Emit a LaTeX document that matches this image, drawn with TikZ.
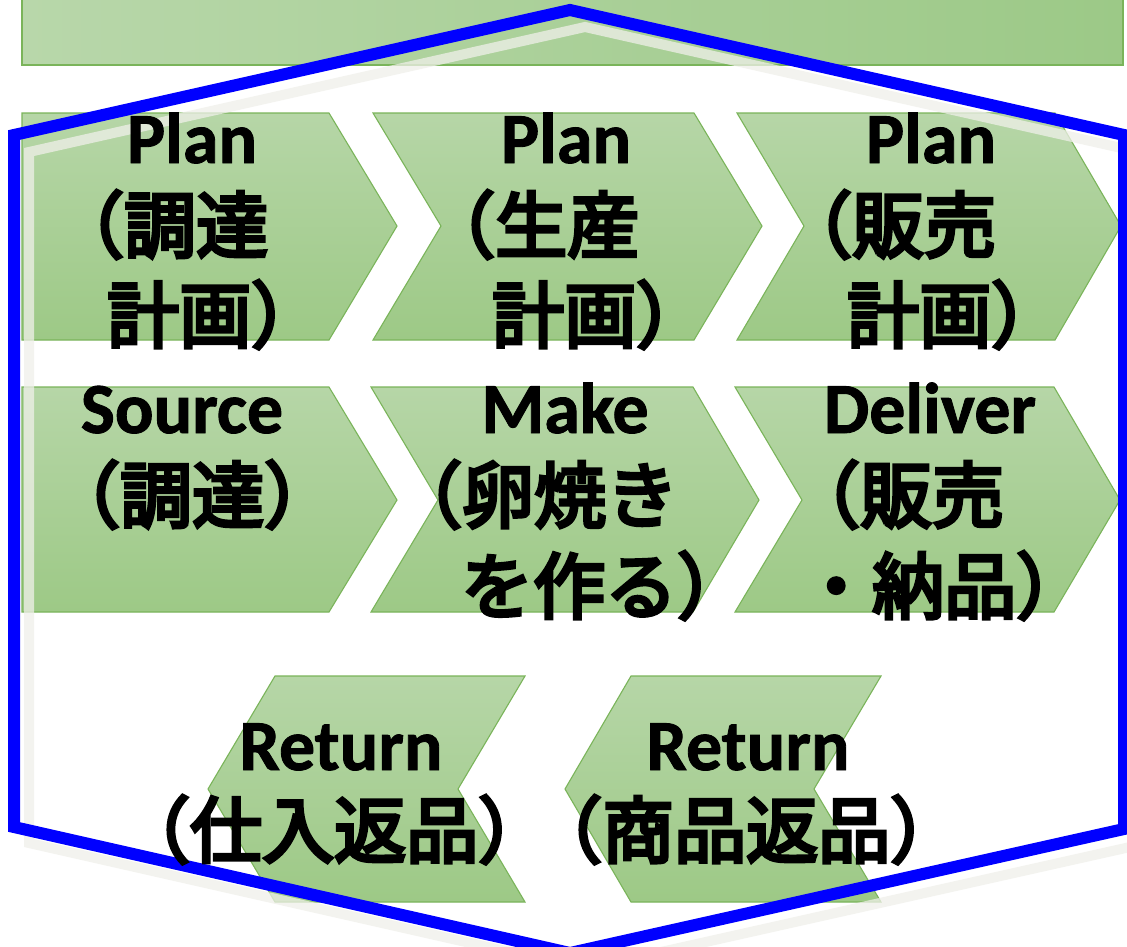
\documentclass[tikz,border=0pt]{standalone}
\usepackage{fontspec}
\setmainfont{Carlito}[BoldFeatures={FakeBold=1.2}]
\newfontfamily\jp{Noto Sans CJK JP}[FakeBold=5]
\definecolor{gtop}{RGB}{182,214,167}
\definecolor{gbot}{RGB}{157,201,134}
\definecolor{barL}{RGB}{184,215,170}
\definecolor{barR}{RGB}{156,201,135}
\definecolor{chevline}{RGB}{122,180,90}
\definecolor{shadowc}{RGB}{240,240,234}
\begin{document}
\begin{tikzpicture}[x=1pt,y=-1pt,
  chev/.style={draw=chevline, line width=1.1pt, top color=gtop, bottom color=gbot},
  bar/.style={draw=chevline, line width=1.1pt, left color=barL, right color=barR},
  lat/.style={font=\fontsize{72}{86}\selectfont\bfseries, inner sep=0pt, anchor=base},
  jpl/.style={font=\fontsize{72}{86}\selectfont\jp, inner sep=0pt, anchor=base west},
  hexline/.style={draw=blue, line width=12pt, line join=miter},
  hexshadow/.style={draw=shadowc, line width=10pt, opacity=0.75, line join=miter}]
\useasboundingbox (0,0) rectangle (1127,946);
\fill[white] (0,0) rectangle (1127,946);
% top bar
\path[bar] (22,-5) rectangle (1123,65);
% row 1 chevrons
\path[chev] (22,113) -- (329,113) -- (397,226) -- (329,340) -- (22,340) -- cycle;
\path[chev] (373,113) -- (694,113) -- (762,226) -- (694,340) -- (373,340) -- (441,226) -- cycle;
\path[chev] (737,113) -- (1055,113) -- (1121,226) -- (1055,340) -- (737,340) -- (804,226) -- cycle;
% row 2 chevrons
\path[chev] (22,387) -- (329,387) -- (397,500) -- (329,612) -- (22,612) -- cycle;
\path[chev] (371,387) -- (693,387) -- (759,500) -- (693,612) -- (371,612) -- (438,500) -- cycle;
\path[chev] (735,387) -- (1054,387) -- (1120,500) -- (1054,612) -- (735,612) -- (802,500) -- cycle;
% row 3 return chevrons
\path[chev] (275,676) -- (525,676) -- (458,789) -- (525,902) -- (275,902) -- (208,789) -- cycle;
\path[chev] (631,676) -- (881,676) -- (814,789) -- (881,902) -- (631,902) -- (565,789) -- cycle;
% hexagon shadow and outline
\draw[hexshadow] (585,27) -- (1139,152) -- (1139,845) -- (585,969) -- (29,843) -- (29,152) -- cycle;
\draw[hexline] (570,10) -- (1124,135) -- (1124,829) -- (570,953) -- (14,827) -- (14,135) -- cycle;
% texts
\node[lat] (p1) at (192,163) {Plan};
\node[jpl] (p1a) at (52,252) {（調達};
\node[jpl] (p1b) at (107,342) {計画）};
\node[lat] (p2) at (566,163) {Plan};
\node[jpl] (p2a) at (423,252) {（生産};
\node[jpl] (p2b) at (492,342) {計画）};
\node[lat] (p3) at (931,163) {Plan};
\node[jpl] (p3a) at (780,252) {（販売};
\node[jpl] (p3b) at (847,342) {計画）};
\node[lat] (s1) at (182,433) {Source};
\node[jpl] (s1a) at (48,522) {（調達）};
\node[lat] (m1) at (565,433) {Make};
\node[jpl] (m1a) at (390,522) {（卵焼き};
\node[jpl] (m1b) at (461,613) {を作る）};
\node[lat] (d1) at (930,433) {Deliver};
\node[jpl] (d1a) at (788,522) {（販売};
\node[jpl] (d1b) at (800,613) {・納品）};
\node[lat] (r1) at (341,770) {Return};
\node[jpl] (r1a) at (118,857) {（仕入返品）};
\node[lat] (r2) at (748,770) {Return};
\node[jpl] (r2a) at (530,857) {（商品返品）};
\end{tikzpicture}
\end{document}
